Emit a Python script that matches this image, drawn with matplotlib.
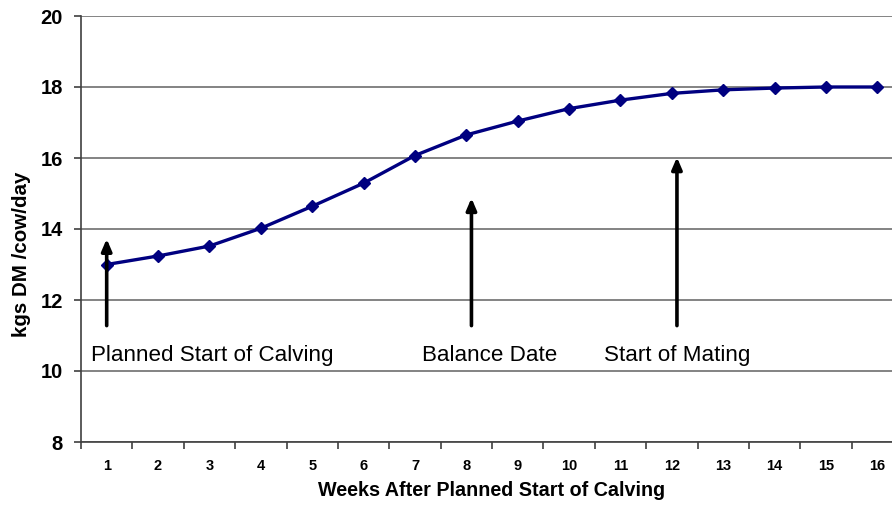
import numpy as np
import matplotlib.pyplot as plt
from matplotlib.ticker import FixedLocator, NullFormatter

plt.rcParams["font.family"] = ["Liberation Sans", "DejaVu Sans"]

weeks = [1, 2, 3, 4, 5, 6, 7, 8, 9, 10, 11, 12, 13, 14, 15, 16]
intake = [13.0, 13.24, 13.52, 14.02, 14.64, 15.29, 16.07, 16.65, 17.04,
          17.39, 17.63, 17.82, 17.92, 17.97, 18.0, 18.0]

# event markers: (week, arrow start, arrow tip, label, label x)
events_week = [1.0, 8.1, 12.1]
events_tip = [13.8, 14.95, 16.1]
events_base = [11.2, 11.2, 11.2]
events_label = ["Planned Start of Calving", "Balance Date", "Start of Mating"]
events_label_x = [0.7, 7.14, 10.68]

fig = plt.figure(figsize=(8.92, 5.05), dpi=100)
ax = fig.add_axes([81 / 892, 63 / 505, 822 / 892, 426 / 505])

ax.set_xlim(0.5, 16.5)
ax.set_ylim(8, 20)
ax.set_yticks([8, 10, 12, 14, 16, 18, 20])
ax.yaxis.grid(True, color="#7a7a7a", linewidth=1.3)
ax.set_axisbelow(True)

ax.plot(weeks, intake, color="#000080", linewidth=2.4, marker="D",
        markersize=6.5, zorder=3)

for wk, base, tip in zip(events_week, events_base, events_tip):
    ax.annotate("", xy=(wk, tip), xytext=(wk, base),
                arrowprops=dict(arrowstyle="-|>,head_width=0.3,head_length=0.7",
                                lw=2.6, color="black"))
for lx, lab in zip(events_label_x, events_label):
    ax.text(lx, 10.45, lab, fontsize=16.1, va="center", ha="left")

ax.set_xticks(weeks)
ax.set_xticklabels([str(w) for w in weeks], fontsize=10.5, fontweight="bold")
ax.xaxis.set_minor_locator(FixedLocator(np.arange(0.5, 17, 1)))
ax.tick_params(axis="x", which="major", length=0, pad=12)
ax.tick_params(axis="x", which="minor", length=5, color="#404040", width=1.2)
ax.tick_params(axis="y", length=5, color="#404040", width=1.2, pad=8,
               labelsize=14.5)
for lab in ax.get_yticklabels():
    lab.set_fontweight("bold")

for side in ["top", "right"]:
    ax.spines[side].set_visible(False)
ax.spines["left"].set_color("#404040")
ax.spines["bottom"].set_color("#404040")
ax.spines["left"].set_linewidth(1.2)
ax.spines["bottom"].set_linewidth(1.2)

ax.set_xlabel("Weeks After Planned Start of Calving", fontsize=14.2,
              fontweight="bold", labelpad=6)
ax.set_ylabel("kgs DM /cow/day", fontsize=14.8, fontweight="bold", labelpad=8)
ax.yaxis.set_label_coords(-0.061, 0.44)

fig.savefig("out.png", dpi=100)
